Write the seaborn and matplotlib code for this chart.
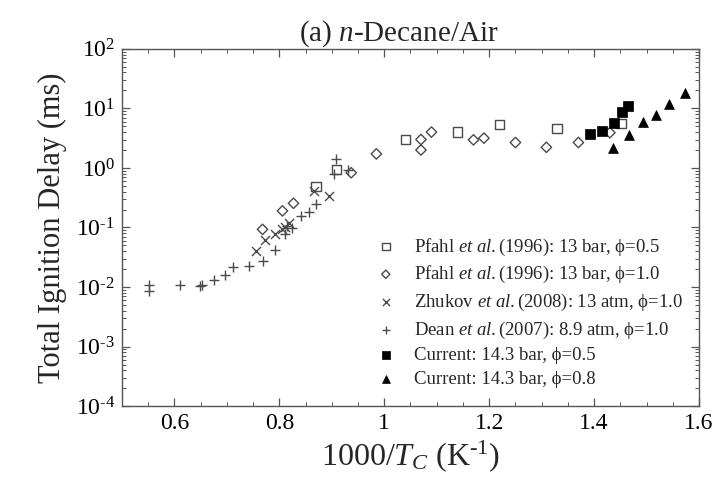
import matplotlib
matplotlib.use("Agg")
import matplotlib.pyplot as plt
import seaborn as sns
import pandas as pd
from matplotlib.ticker import FixedLocator, MultipleLocator, LogLocator, NullFormatter

# ---- data ----
pfahl05_x = [0.870, 0.909, 1.040, 1.140, 1.219, 1.329, 1.451]
pfahl05_y = [0.485, 0.95, 3.0, 4.0, 5.3, 4.65, 5.6]

pfahl10_x = [0.768, 0.806, 0.827, 0.937, 0.985, 1.070, 1.070, 1.090, 1.170, 1.190, 1.250, 1.309, 1.370, 1.430]
pfahl10_y = [0.093, 0.19, 0.255, 0.83, 1.72, 3.0, 2.0, 4.0, 2.96, 3.16, 2.67, 2.22, 2.67, 3.9]

zhukov_x = [0.756, 0.773, 0.792, 0.805, 0.810, 0.818, 0.867, 0.894]
zhukov_y = [0.040, 0.061, 0.078, 0.095, 0.103, 0.120, 0.41, 0.34]

dean_x = [0.552, 0.552, 0.611, 0.649, 0.653, 0.676, 0.697, 0.711, 0.743, 0.768, 0.792,
          0.810, 0.815, 0.825, 0.841, 0.857, 0.870, 0.905, 0.908, 0.930]
dean_y = [0.011, 0.0085, 0.011, 0.0105, 0.011, 0.013, 0.016, 0.022, 0.023, 0.027, 0.042,
          0.079, 0.105, 0.098, 0.155, 0.18, 0.25, 0.78, 1.4, 0.93]

cur05_x = [1.392, 1.415, 1.438, 1.453, 1.465]
cur05_y = [3.7, 4.2, 5.6, 8.8, 11.0]

cur08_x = [1.436, 1.467, 1.493, 1.518, 1.543, 1.573]
cur08_y = [2.2, 3.6, 5.8, 7.8, 11.9, 18.0]

labels = [
    r"Pfahl $\mathit{et\ al.}$(1996): 13 bar, ϕ=0.5",
    r"Pfahl $\mathit{et\ al.}$(1996): 13 bar, ϕ=1.0",
    r"Zhukov $\mathit{et\ al.}$(2008): 13 atm, ϕ=1.0",
    r"Dean $\mathit{et\ al.}$(2007): 8.9 atm, ϕ=1.0",
    r"Current: 14.3 bar, ϕ=0.5",
    r"Current: 14.3 bar, ϕ=0.8",
]

xtick_vals = [0.6, 0.8, 1.0, 1.2, 1.4, 1.6]
xtick_labels = ["0.6", "0.8", "1", "1.2", "1.4", "1.6"]
ytick_vals = [1e-4, 1e-3, 1e-2, 1e-1, 1e0, 1e1, 1e2]
ytick_labels = [r"$10^{\text{-4}}$", r"$10^{\text{-3}}$", r"$10^{\text{-2}}$", r"$10^{\text{-1}}$",
                r"$10^{0}$", r"$10^{1}$", r"$10^{2}$"]

# ---- style ----
sns.set_theme(style="ticks")
plt.rcParams["font.family"] = ["Liberation Serif", "DejaVu Serif"]
plt.rcParams["mathtext.fontset"] = "custom"
plt.rcParams["mathtext.rm"] = "Liberation Serif"
plt.rcParams["mathtext.it"] = "Liberation Serif:italic"
plt.rcParams["mathtext.bf"] = "Liberation Serif:bold"

fig, ax = plt.subplots(figsize=(7.17, 4.83), dpi=100)
fig.subplots_adjust(left=0.170, right=0.975, top=0.899, bottom=0.159)

grey = "#4a4a4a"
series = [
    (pfahl05_x, pfahl05_y, dict(marker="s", s=45, facecolor="none", edgecolor=grey, linewidth=1.0)),
    (pfahl10_x, pfahl10_y, dict(marker="D", s=28, facecolor="none", edgecolor=grey, linewidth=1.0)),
    (zhukov_x, zhukov_y, dict(marker="x", s=42, color=grey, linewidth=1.0)),
    (dean_x, dean_y, dict(marker="+", s=52, color=grey, linewidth=1.0)),
    (cur05_x, cur05_y, dict(marker="s", s=55, color="black", edgecolor="black", linewidth=0.5)),
    (cur08_x, cur08_y, dict(marker="^", s=50, color="black", edgecolor="black", linewidth=0.5)),
]
for (xs, ys, kw), lab in zip(series, labels):
    df = pd.DataFrame({"x": xs, "y": ys})
    sns.scatterplot(data=df, x="x", y="y", ax=ax, label=lab, zorder=3, **kw)

ax.set_yscale("log")
ax.set_xlim(0.5, 1.6)
ax.set_ylim(1e-4, 1e2)
ax.xaxis.set_major_locator(FixedLocator(xtick_vals))
ax.set_xticklabels(xtick_labels)
ax.xaxis.set_minor_locator(MultipleLocator(0.05))
ax.yaxis.set_major_locator(FixedLocator(ytick_vals))
ax.set_yticklabels(ytick_labels)
ax.yaxis.set_minor_locator(LogLocator(base=10, subs=range(2, 10), numticks=20))
ax.yaxis.set_minor_formatter(NullFormatter())

for side in ax.spines.values():
    side.set_color("#555555")
    side.set_linewidth(1.0)
ax.tick_params(which="both", direction="in", top=True, right=True, colors="#555555", labelcolor="black")
ax.tick_params(which="major", length=6, width=0.9, labelsize=17, pad=5)
ax.tick_params(which="minor", length=3, width=0.7)

ax.set_xlabel(r"1000/$T_C$ (K$^{\text{-1}}$)", fontsize=23, labelpad=3)
ax.set_ylabel("Total Ignition Delay (ms)", fontsize=22, labelpad=6)
ax.set_title(r"(a) $n$-Decane/Air", fontsize=21, pad=6, x=0.48)

leg = ax.legend(loc="lower right", bbox_to_anchor=(0.985, 0.03), frameon=False,
                fontsize=13.5, handlelength=1.4, handletextpad=0.8, labelspacing=0.35,
                borderaxespad=0, markerscale=0.8, scatterpoints=1)

fig.savefig("out.png", dpi=100)
